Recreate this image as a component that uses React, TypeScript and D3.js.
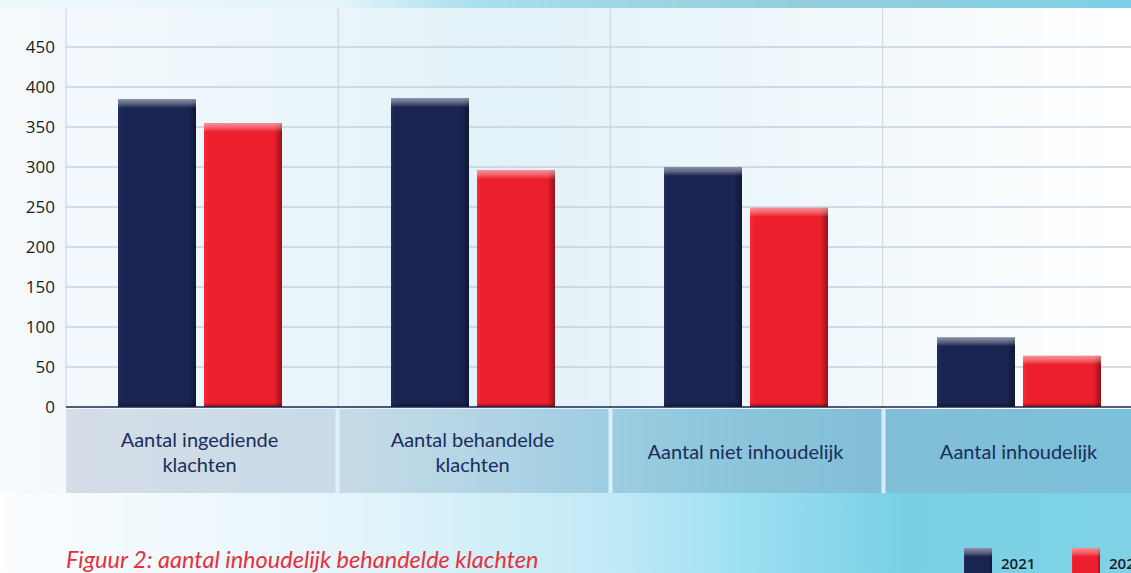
import React from "react";
import * as d3 from "d3";

const categories = [
  ["Aantal ingediende", "klachten"],
  ["Aantal behandelde", "klachten"],
  ["Aantal niet inhoudelijk"],
  ["Aantal inhoudelijk"],
];
const seriesNames = ["2021", "2022"];
const values2021 = [385, 386, 300, 87];
const values2022 = [355, 296, 249, 64];
const yTicks = [0, 50, 100, 150, 200, 250, 300, 350, 400, 450];
const caption = "Figuur 2: aantal inhoudelijk behandelde klachten";

const W = 1131;
const H = 573;

export default function App() {
  const keys = categories.map((c) => c.join(" "));
  const x = d3.scaleBand<string>().domain(keys).range([66, 66 + 4 * 273]).paddingInner(0).paddingOuter(0);
  const xs = d3.scaleBand<string>().domain(seriesNames).range([52, 216]).paddingInner(8 / 86).paddingOuter(0);
  const y = d3.scaleLinear().domain([0, 450]).range([407, 47]);
  const seriesVals = [values2021, values2022];
  const colors = ["#1a2450", "#ec1f2c"];
  const panelTop = 409;
  const panelBottom = 493;

  return (
    <svg width={W} height={H} style={{ position: "absolute", left: 0, top: 0, display: "block" }}>
      <defs>
        <linearGradient id="bgMain" x1="0" y1="0" x2="1" y2="0">
          <stop offset="0" stopColor="#f6fafd" />
          <stop offset="0.45" stopColor="#e2f2f8" />
          <stop offset="0.65" stopColor="#ecf6fa" />
          <stop offset="1" stopColor="#ffffff" />
        </linearGradient>
        <linearGradient id="bgTop" x1="0" y1="0" x2="1" y2="0">
          <stop offset="0" stopColor="#eef8fc" />
          <stop offset="0.3" stopColor="#e4f4fa" />
          <stop offset="0.42" stopColor="#a9dfec" />
          <stop offset="0.7" stopColor="#96cddc" />
          <stop offset="1" stopColor="#7dd0e6" />
        </linearGradient>
        <linearGradient id="bgBottom" x1="0" y1="0" x2="1" y2="0">
          <stop offset="0" stopColor="#fbfdff" />
          <stop offset="0.3" stopColor="#e6f5fb" />
          <stop offset="0.55" stopColor="#bfe9f6" />
          <stop offset="0.65" stopColor="#9fe0f3" />
          <stop offset="0.8" stopColor="#79cfe4" />
          <stop offset="1" stopColor="#80d3e6" />
        </linearGradient>
        <linearGradient id="panel" x1="0" y1="0" x2="1" y2="0">
          <stop offset="0" stopColor="#d5dde7" />
          <stop offset="0.25" stopColor="#c8dbe7" />
          <stop offset="0.4" stopColor="#b0d4e5" />
          <stop offset="0.6" stopColor="#8fc7dd" />
          <stop offset="0.75" stopColor="#82bfd6" />
          <stop offset="1" stopColor="#7cc0d9" />
        </linearGradient>
        {colors.map((c, i) => (
          <linearGradient key={"h" + i} id={"barH" + i} x1="0" y1="0" x2="1" y2="0">
            <stop offset="0" stopColor={d3.color(c)!.brighter(0.6).toString()} />
            <stop offset="0.06" stopColor={c} />
            <stop offset="0.9" stopColor={c} />
            <stop offset="1" stopColor={d3.color(c)!.darker(1.3).toString()} />
          </linearGradient>
        ))}
        {colors.map((c, i) => (
          <linearGradient key={"v" + i} id={"barV" + i} x1="0" y1="0" x2="0" y2="1">
            <stop offset="0" stopColor="#ffffff" stopOpacity={0.5} />
            <stop offset="0.5" stopColor="#ffffff" stopOpacity={0.3} />
            <stop offset="1" stopColor="#ffffff" stopOpacity={0} />
          </linearGradient>
        ))}
        {colors.map((c, i) => (
          <linearGradient key={"b" + i} id={"barB" + i} x1="0" y1="0" x2="0" y2="1">
            <stop offset="0" stopColor="#000000" stopOpacity={0} />
            <stop offset="1" stopColor="#000000" stopOpacity={0.45} />
          </linearGradient>
        ))}
      </defs>

      {/* background */}
      <rect x={0} y={0} width={W} height={H} fill="url(#bgMain)" />
      <rect x={0} y={0} width={W} height={8} fill="url(#bgTop)" />
      <rect x={0} y={panelBottom} width={W} height={H - panelBottom} fill="url(#bgBottom)" />

      {/* label panel */}
      <rect x={66} y={panelTop} width={W - 66} height={panelBottom - panelTop} fill="url(#panel)" />
      {keys.slice(1).map((k) => (
        <rect key={"sep" + k} x={(x(k) as number) - 3.5} y={panelTop} width={4} height={panelBottom - panelTop} fill="#e6f4fa" opacity={0.85} />
      ))}

      {/* grid */}
      {yTicks.slice(1).map((t) => (
        <line key={"g" + t} x1={66} x2={W} y1={y(t)} y2={y(t)} stroke="#c9d0e0" strokeWidth={1.5} />
      ))}
      {keys.map((k, i) => (
        <line key={"vg" + k} x1={(x(k) as number) - i * 0.8} x2={(x(k) as number) - i * 0.8} y1={y(450) - 38} y2={y(0)} stroke="#cfd6e4" strokeWidth={1.2} />
      ))}

      {/* bars */}
      {keys.map((k, ci) =>
        seriesNames.map((s, si) => {
          const bx = (x(k) as number) + (xs(s) as number);
          const bw = xs.bandwidth();
          const top = y(seriesVals[si][ci]);
          const bh = y(0) - top;
          return (
            <g key={k + s}>
              <rect x={bx} y={top} width={bw} height={bh} fill={`url(#barH${si})`} />
              <rect x={bx} y={top} width={bw} height={Math.min(9, bh)} fill={`url(#barV${si})`} />
              <rect x={bx} y={y(0) - 4} width={bw} height={4} fill={`url(#barB${si})`} />
            </g>
          );
        })
      )}

      {/* axis line */}
      <line x1={66} x2={W} y1={y(0)} y2={y(0)} stroke="#1d2650" strokeWidth={1.6} />

      {/* y tick labels */}
      {yTicks.map((t) => (
        <text key={"t" + t} x={55} y={y(t)} dy="0.35em" textAnchor="end" fontFamily="'Open Sans', sans-serif" fontSize={17} fontWeight={500} fill="#1c1c24">
          {t}
        </text>
      ))}

      {/* category labels */}
      {categories.map((lines, ci) => {
        const cx = (x(keys[ci]) as number) + x.bandwidth() / 2 - 3;
        const mid = (panelTop + panelBottom) / 2 + 1;
        const lh = 25;
        const start = mid - ((lines.length - 1) * lh) / 2;
        return (
          <text key={"c" + ci} textAnchor="middle" fontFamily="Lato, sans-serif" fontSize={20} fill="#1b2d5a">
            {lines.map((l, li) => (
              <tspan key={li} x={cx} y={start + li * lh} dy="0.35em">
                {l}
              </tspan>
            ))}
          </text>
        );
      })}

      {/* caption */}
      <text x={66} y={568} fontFamily="Lato, sans-serif" fontStyle="italic" fontSize={23.5} fill="#e8303c">
        {caption}
      </text>

      {/* legend */}
      {seriesNames.map((s, si) => {
        const lx = 964 + si * 108;
        return (
          <g key={"l" + s}>
            <rect x={lx} y={548} width={28} height={30} fill={`url(#barH${si})`} />
            <rect x={lx} y={548} width={28} height={9} fill={`url(#barV${si})`} />
            <text x={lx + 37} y={569} fontFamily="'Open Sans', sans-serif" fontSize={15} fontWeight={600} fill="#1c1c24">
              {s}
            </text>
          </g>
        );
      })}
    </svg>
  );
}
